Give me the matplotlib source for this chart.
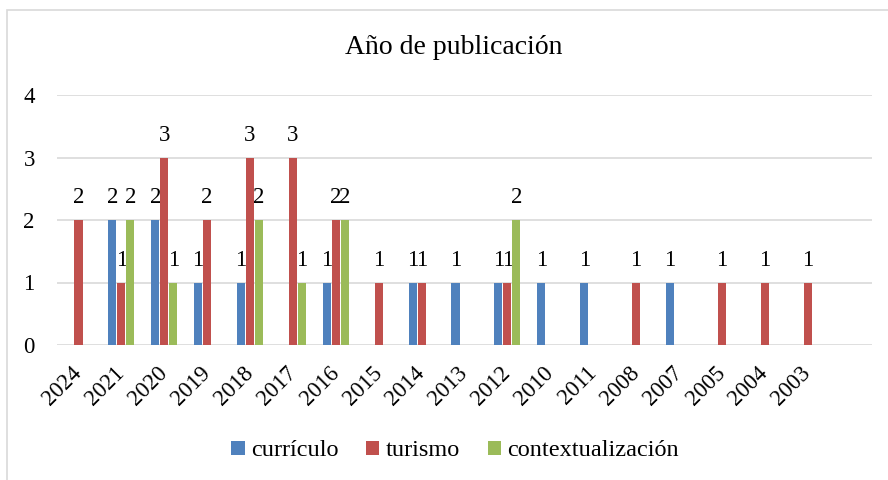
import matplotlib.pyplot as plt
import matplotlib.patches as patches
import numpy as np

plt.rcParams['font.family'] = ['Liberation Serif', 'DejaVu Serif']

# datos
anios = ['2024', '2021', '2020', '2019', '2018', '2017', '2016', '2015', '2014',
         '2013', '2012', '2010', '2011', '2008', '2007', '2005', '2004', '2003', '']
curriculo = [0, 2, 2, 1, 1, 0, 1, 0, 1, 1, 1, 1, 1, 0, 1, 0, 0, 0, 0]
turismo = [2, 1, 3, 2, 3, 3, 2, 1, 1, 0, 1, 0, 0, 1, 0, 1, 1, 1, 0]
contextualizacion = [0, 2, 1, 0, 2, 1, 2, 0, 0, 0, 2, 0, 0, 0, 0, 0, 0, 0, 0]

series = [('currículo', curriculo, '#4F81BD'),
          ('turismo', turismo, '#C0504D'),
          ('contextualización', contextualizacion, '#9BBB59')]

fig = plt.figure(figsize=(8.88, 4.8), dpi=100)
ax = fig.add_axes([57 / 888, 135 / 480, 815 / 888, 250 / 480])

x = np.arange(len(anios))
ancho = 0.19
desp = 0.21
for i, (nombre, valores, color) in enumerate(series):
    pos = x + (i - 1) * desp
    ax.bar(pos, valores, width=ancho, color=color, label=nombre, zorder=3)
    # etiquetas de datos
    for px, v in zip(pos, valores):
        if v > 0:
            ax.annotate(str(v), (px, v), xytext=(0, 12), textcoords='offset points',
                        ha='center', va='baseline', fontsize=16.5)

ax.set_xlim(-0.5, len(anios) - 0.5)
ax.set_ylim(0, 4)
ax.set_yticks([0, 1, 2, 3, 4])
ax.set_xticks(x)
ax.set_xticklabels(anios, rotation=45, ha='right', va='center', rotation_mode='anchor')
ax.tick_params(axis='both', length=0, labelsize=16.5)
ax.tick_params(axis='y', pad=16)
ax.tick_params(axis='x', pad=18)
ax.grid(axis='y', color='#D9D9D9', linewidth=1.2, zorder=0)
for s in ax.spines.values():
    s.set_visible(False)

fig.text(454 / 888, 1 - 48 / 480, 'Año de publicación', ha='center', va='center', fontsize=20)

fig.legend(loc='center', bbox_to_anchor=(455 / 888, 1 - 451 / 480), ncol=3, frameon=False,
           fontsize=17.5, handlelength=0.55, handleheight=0.55, handletextpad=0.25,
           columnspacing=1.15)

# borde del grafico
fig.patches.append(patches.Rectangle((7 / 888, -0.1), 1.0, 1 - 10 / 480 + 0.1,
                                     transform=fig.transFigure, fill=False,
                                     edgecolor='#D9D9D9', linewidth=1.2))

fig.savefig('out.png', dpi=100)
